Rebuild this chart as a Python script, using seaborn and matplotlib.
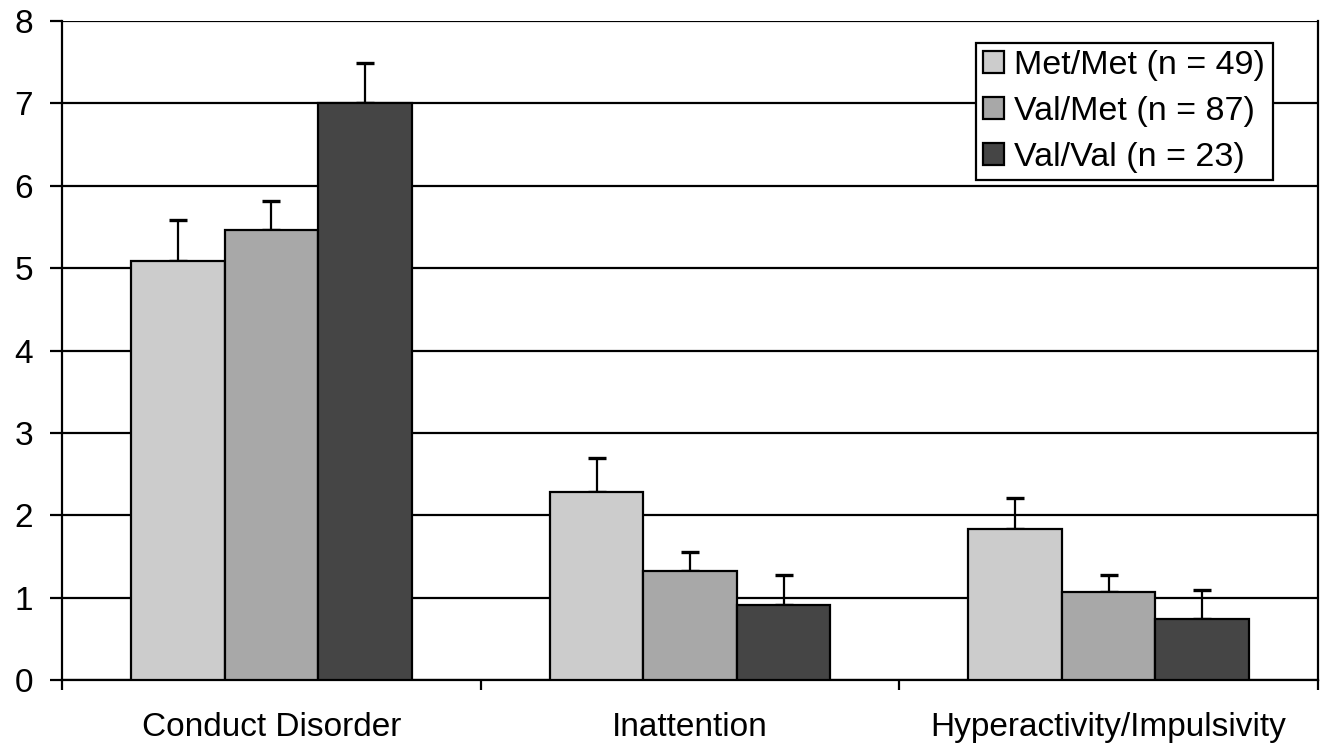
import matplotlib
matplotlib.use("Agg")
import matplotlib.pyplot as plt
import seaborn as sns
import pandas as pd

categories = ["Conduct Disorder", "Inattention", "Hyperactivity/Impulsivity"]
groups = ["Met/Met (n = 49)", "Val/Met (n = 87)", "Val/Val (n = 23)"]
means = {
    "Met/Met (n = 49)": [5.09, 2.28, 1.83],
    "Val/Met (n = 87)": [5.46, 1.32, 1.07],
    "Val/Val (n = 23)": [7.00, 0.91, 0.74],
}
errors = {
    "Met/Met (n = 49)": [0.49, 0.42, 0.38],
    "Val/Met (n = 87)": [0.35, 0.23, 0.20],
    "Val/Val (n = 23)": [0.49, 0.36, 0.35],
}
colors = ["#cccccc", "#a8a8a8", "#454545"]

rows = []
for g in groups:
    for c, m, e in zip(categories, means[g], errors[g]):
        rows.append({"category": c, "group": g, "mean": m, "err": e})
df = pd.DataFrame(rows)

sns.set_style("white")
plt.rcParams["font.family"] = ["Liberation Sans", "DejaVu Sans"]
plt.rcParams["text.color"] = "black"
plt.rcParams["xtick.color"] = "black"
plt.rcParams["ytick.color"] = "black"

fig = plt.figure(figsize=(13.29, 7.45), dpi=100)
ax = fig.add_axes([0.0467, 0.0872, 0.945, 0.8846])

sns.barplot(data=df, x="category", y="mean", hue="group", order=categories,
            hue_order=groups, palette=colors, width=0.67, edgecolor="black",
            linewidth=1.6, errorbar=None, ax=ax, zorder=3)

# upward-only error bars at bar centres
for i, g in enumerate(groups):
    cont = ax.containers[i]
    xs = [p.get_x() + p.get_width() / 2 for p in cont.patches]
    ys = [p.get_height() for p in cont.patches]
    ax.errorbar(xs, ys, yerr=[[0] * len(ys), errors[g]], fmt="none",
                ecolor="black", elinewidth=1.6, capsize=6.5, capthick=2.4, zorder=2)

ax.set_ylim(0, 8)
ax.set_xlim(-0.5, 2.5)
ax.set_yticks(range(0, 9))
ax.yaxis.grid(True, color="black", linewidth=1.6, zorder=0)
ax.set_axisbelow(True)
ax.set_xlabel("")
ax.set_ylabel("")

ax.set_xticks([-0.5, 0.5, 1.5, 2.5], minor=True)
ax.tick_params(axis="x", which="major", length=0, pad=23, labelsize=24,
               labelcolor="black")
ax.tick_params(axis="x", which="minor", length=7.5, width=1.6, color="black",
               direction="out", bottom=True)
ax.tick_params(axis="y", length=9, width=1.6, color="black", direction="out",
               left=True, pad=12, labelsize=24, labelcolor="black")

for side in ["left", "right", "bottom", "top"]:
    ax.spines[side].set_color("black")
    ax.spines[side].set_linewidth(1.6)
ax.spines["top"].set_visible(False)

leg = ax.legend(loc="upper right", bbox_to_anchor=(0.964, 0.967), fontsize=24.5,
                frameon=True, fancybox=False, edgecolor="black", framealpha=1,
                handlelength=0.62, handleheight=0.62, handletextpad=0.3,
                borderpad=0.22, labelspacing=0.43, borderaxespad=0)
leg.get_frame().set_linewidth(1.6)
for t in leg.get_texts():
    t.set_color("black")

fig.savefig("out.png", dpi=100)
